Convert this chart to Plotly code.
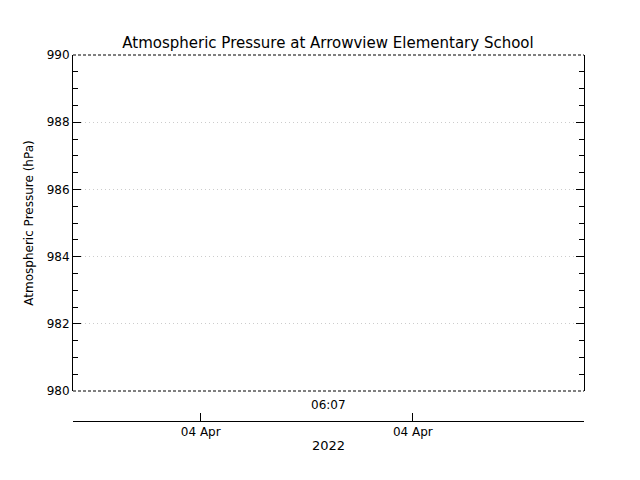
import plotly.graph_objects as go

times = []
pressure = []
y_range = [980, 990]
x_tick_pos = [0.25, 0.665]
x_tick_text = ["04 Apr", "04 Apr"]
center_label = "06:07"
year_label = "2022"

fig = go.Figure()
fig.add_trace(go.Scatter(x=times, y=pressure, mode="lines", line=dict(color="black"), showlegend=False))
fig.add_trace(go.Scatter(x=[None], y=[None], xaxis="x2", yaxis="y", showlegend=False))

font = dict(family="DejaVu Sans", size=12, color="black")
fig.update_layout(
    width=640, height=480, paper_bgcolor="white", plot_bgcolor="white",
    margin=dict(l=65, r=64, t=47, b=67),
    font=font,
    title=dict(text="Atmospheric Pressure at Arrowview Elementary School", x=0.5, xanchor="center",
               y=1 - 35/480, yanchor="middle", font=dict(size=15)),
    xaxis=dict(range=[0, 1], showticklabels=False, ticks="", showgrid=False, zeroline=False,
               showline=False, domain=[0, 1], anchor="y", automargin=False),
    xaxis2=dict(range=[0, 1], overlaying="x", anchor="free", position=0, showline=True, linecolor="black",
                linewidth=1, ticks="inside", ticklen=8, tickcolor="black", tickvals=x_tick_pos,
                ticktext=x_tick_text, showgrid=False, zeroline=False, automargin=False,
                title=dict(text=year_label, standoff=2, font=dict(size=13))),
    yaxis=dict(range=y_range, domain=[30/366, 1], dtick=2, showline=True, linecolor="black", mirror="ticks",
               ticks="inside", ticklen=8, tickcolor="black", showgrid=True, gridcolor="#cccccc",
               griddash="1px,3px", zeroline=False, automargin=False,
               minor=dict(dtick=0.5, ticks="inside", ticklen=5, tickcolor="black", showgrid=False),
               title=dict(text="Atmospheric Pressure (hPa)", standoff=10, font=dict(size=12))),
    shapes=[
        dict(type="line", xref="x domain", yref="y domain", x0=0, x1=1, y0=1, y1=1,
             line=dict(color="black", width=1, dash="3px,2px")),
        dict(type="line", xref="x domain", yref="y domain", x0=0, x1=1, y0=0, y1=0,
             line=dict(color="black", width=1, dash="3px,2px")),
    ],
    annotations=[dict(text=center_label, xref="paper", yref="paper", x=0.5, y=(413-397)/366,
                      showarrow=False, yanchor="middle", font=font)],
)
fig.write_html("out.html")
